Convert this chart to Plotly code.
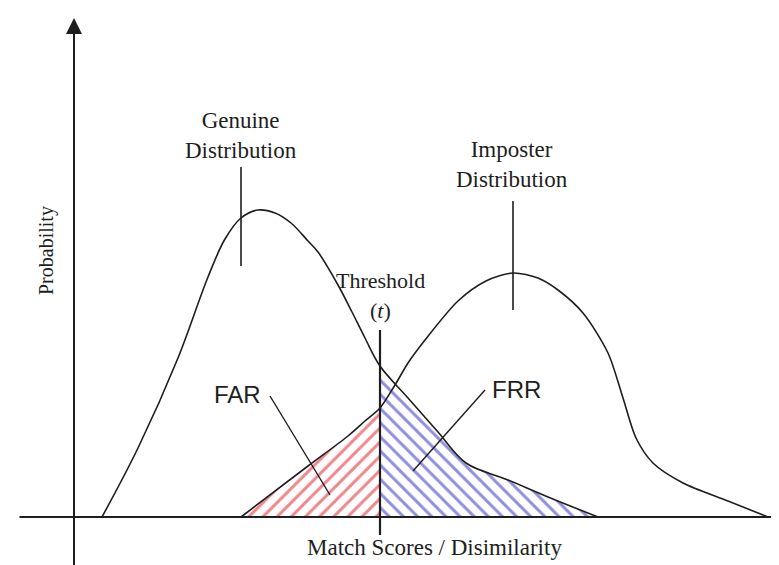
import plotly.graph_objects as go

# ---- data (x = match score, y = probability density, chart units) ----
genuine_x = [0.28, 0.64, 1.04, 1.34, 1.51, 1.67, 1.84, 2.01, 2.17, 2.34, 2.44, 2.64, 2.78, 2.91, 3.06,
             3.34, 3.64, 3.92, 4.34, 4.74, 5.24]
genuine_y = [0.000, 0.069, 0.159, 0.240, 0.278, 0.299, 0.307, 0.304, 0.294, 0.276, 0.265, 0.232, 0.205,
             0.179, 0.151, 0.119, 0.085, 0.054, 0.037, 0.020, 0.000]

imposter_x = [1.67, 2.34, 2.74, 2.91, 3.06, 3.21, 3.34, 3.51, 3.84, 4.12, 4.39, 4.64, 4.84, 5.09, 5.34,
              5.49, 5.62, 5.79, 6.09, 6.54, 6.94]
imposter_y = [0.000, 0.051, 0.081, 0.096, 0.109, 0.132, 0.154, 0.177, 0.216, 0.236, 0.244, 0.239, 0.227,
              0.204, 0.164, 0.119, 0.079, 0.054, 0.034, 0.016, 0.000]

threshold = 3.06

# label text
genuine_label = "Genuine<br>Distribution"
imposter_label = "Imposter<br>Distribution"
threshold_label = "Threshold"
threshold_symbol = "(<i>t</i>)"
far_label = "FAR"
frr_label = "FRR"
x_title = "Match Scores / Disimilarity"
y_title = "Probability"

# label leader lines (x0, y0, x1, y1)
genuine_pointer = [1.67, 0.350, 1.67, 0.251]
imposter_pointer = [4.39, 0.316, 4.39, 0.207]
threshold_line = [threshold, 0.187, threshold, -0.018]
far_pointer = [1.96, 0.121, 2.56, 0.022]
frr_pointer = [4.11, 0.127, 3.39, 0.046]

X_RANGE = [-0.66, 7.13]
Y_RANGE = [-0.056, 0.509]

INK = "#1e1e1e"

fig = go.Figure()

# FAR region: under imposter curve, left of threshold
far_x = [x for x in imposter_x if x <= threshold]
far_y = [y for x, y in zip(imposter_x, imposter_y) if x <= threshold]
fig.add_trace(go.Scatter(
    x=far_x + [threshold, far_x[0]], y=far_y + [0, 0],
    mode="lines", fill="toself", line=dict(width=0),
    fillcolor="white",
    fillpattern=dict(shape="/", fgcolor="#e0101a", bgcolor="white", size=10, solidity=0.3),
    hoverinfo="skip"))

# FRR region: under genuine curve, right of threshold
frr_x = [x for x in genuine_x if x >= threshold]
frr_y = [y for x, y in zip(genuine_x, genuine_y) if x >= threshold]
fig.add_trace(go.Scatter(
    x=[threshold] + frr_x + [threshold], y=[0] + frr_y + [0],
    mode="lines", fill="toself", line=dict(width=0),
    fillcolor="white",
    fillpattern=dict(shape="\\", fgcolor="#2020c0", bgcolor="white", size=10, solidity=0.3),
    hoverinfo="skip"))

# distributions
fig.add_trace(go.Scatter(x=genuine_x, y=genuine_y, mode="lines",
                         line=dict(color=INK, width=1.6, shape="spline", smoothing=1.0), hoverinfo="skip"))
fig.add_trace(go.Scatter(x=imposter_x, y=imposter_y, mode="lines",
                         line=dict(color=INK, width=1.6, shape="spline", smoothing=0.8), hoverinfo="skip"))

# leader lines
for seg, w in [(genuine_pointer, 1.6), (imposter_pointer, 1.6), (threshold_line, 2.2),
               (far_pointer, 1.4), (frr_pointer, 1.4)]:
    fig.add_trace(go.Scatter(x=[seg[0], seg[2]], y=[seg[1], seg[3]], mode="lines",
                             line=dict(color=INK, width=w), hoverinfo="skip"))

serif = "Liberation Serif, Times New Roman, serif"
sans = "Liberation Sans, Arial, sans-serif"

annotations = [
    # axes with arrowheads
    dict(x=0, y=0.499, ax=0, ay=Y_RANGE[0] - 0.01, xref="x", yref="y", axref="x", ayref="y",
         text="", showarrow=True, arrowhead=2, arrowsize=1.6, arrowwidth=2, arrowcolor=INK),
    dict(x=7.21, y=0, ax=-0.56, ay=0, xref="x", yref="y", axref="x", ayref="y",
         text="", showarrow=True, arrowhead=2, arrowsize=1.6, arrowwidth=2, arrowcolor=INK),
    dict(x=1.67, y=0.382, text=genuine_label, showarrow=False, xref="x", yref="y",
         font=dict(family=serif, size=23, color=INK)),
    dict(x=4.38, y=0.3525, text=imposter_label, showarrow=False, xref="x", yref="y",
         font=dict(family=serif, size=23, color=INK)),
    dict(x=threshold, y=0.237, text=threshold_label, showarrow=False, xref="x", yref="y",
         font=dict(family=serif, size=22, color=INK)),
    dict(x=threshold, y=0.207, text=threshold_symbol, showarrow=False, xref="x", yref="y",
         font=dict(family=serif, size=22, color=INK)),
    dict(x=1.63, y=0.123, text=far_label, showarrow=False, xref="x", yref="y",
         font=dict(family=sans, size=24, color=INK)),
    dict(x=4.42, y=0.128, text=frr_label, showarrow=False, xref="x", yref="y",
         font=dict(family=sans, size=24, color=INK)),
    dict(x=3.60, y=-0.030, text=x_title, showarrow=False, xref="x", yref="y",
         font=dict(family=serif, size=23, color=INK)),
    dict(x=-0.28, y=0.266, text=y_title, showarrow=False, xref="x", yref="y", textangle=-90,
         font=dict(family=serif, size=20, color=INK)),
]

fig.update_layout(
    width=779, height=565, autosize=False,
    margin=dict(l=0, r=0, t=0, b=0, pad=0),
    paper_bgcolor="white", plot_bgcolor="white",
    showlegend=False,
    xaxis=dict(range=X_RANGE, visible=False, fixedrange=True),
    yaxis=dict(range=Y_RANGE, visible=False, fixedrange=True),
    annotations=annotations,
)

fig.write_html("out.html")
